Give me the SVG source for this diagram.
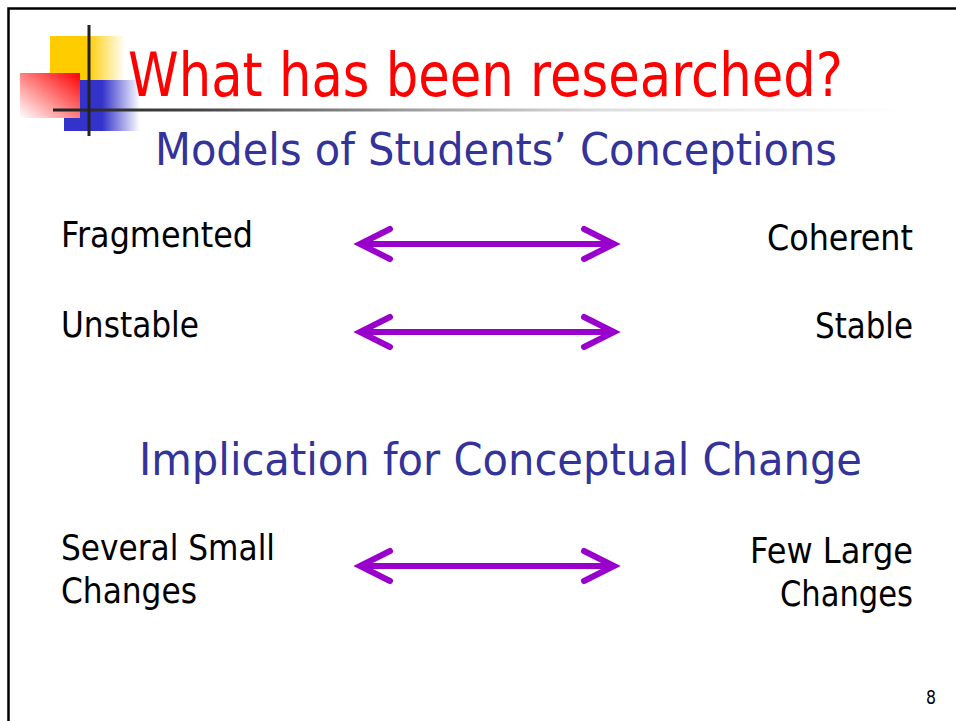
<svg xmlns="http://www.w3.org/2000/svg" width="956" height="721" viewBox="0 0 956 721">
  <style>
    .t { font-family: "DejaVu Sans", "Liberation Sans", sans-serif; }
    .title { fill: #FF0000; font-size: 60px; }
    .sub { fill: #333399; font-size: 44px; }
    .lbl { fill: #000000; font-size: 36px; }
    .num { fill: #000000; font-size: 19px; }
    .arrow { fill: none; stroke: #9900CC; stroke-width: 6; stroke-linecap: round; stroke-linejoin: miter; }
  </style>
  <defs>
    <linearGradient id="gYellow" x1="0" y1="0" x2="1" y2="0">
      <stop offset="0" stop-color="#FFCC00"/>
      <stop offset="0.5" stop-color="#FFCC00"/>
      <stop offset="1" stop-color="#FFCC00" stop-opacity="0"/>
    </linearGradient>
    <linearGradient id="gBlue" x1="0" y1="0" x2="1" y2="0">
      <stop offset="0" stop-color="#3333CC"/>
      <stop offset="0.5" stop-color="#3333CC"/>
      <stop offset="1" stop-color="#3333CC" stop-opacity="0"/>
    </linearGradient>
    <linearGradient id="gRed" x1="1" y1="0" x2="0" y2="1">
      <stop offset="0" stop-color="#FF0000"/>
      <stop offset="1" stop-color="#FFFFFF"/>
    </linearGradient>
    <linearGradient id="gLine" gradientUnits="userSpaceOnUse" x1="53" y1="0" x2="900" y2="0">
      <stop offset="0" stop-color="#222222"/>
      <stop offset="0.17" stop-color="#444444"/>
      <stop offset="0.41" stop-color="#999999"/>
      <stop offset="0.65" stop-color="#DDDDDD"/>
      <stop offset="1" stop-color="#FFFFFF"/>
    </linearGradient>
  </defs>

  <rect x="0" y="0" width="956" height="721" fill="#FFFFFF"/>
  <rect x="8.5" y="8.5" width="1000" height="1000" fill="none" stroke="#000000" stroke-width="2.5"/>

  <g id="logo">
    <rect x="50" y="36" width="75" height="44" fill="url(#gYellow)"/>
    <rect x="64" y="80" width="76" height="51" fill="url(#gBlue)"/>
    <rect x="20" y="73" width="60" height="45" fill="url(#gRed)"/>
    <rect x="53" y="108.5" width="847" height="3" fill="url(#gLine)"/>
    <rect x="87.5" y="25" width="3" height="111" fill="#222222"/>
  </g>

  <g id="title">
    <text class="t title" x="128" y="96" textLength="715" lengthAdjust="spacingAndGlyphs">What has been researched?</text>
  </g>
  <g id="subtitle-models">
    <text class="t sub" x="155" y="165" textLength="682" lengthAdjust="spacingAndGlyphs">Models of Students’ Conceptions</text>
  </g>
  <g id="node-fragmented">
    <text class="t lbl" x="61" y="247" textLength="192" lengthAdjust="spacingAndGlyphs">Fragmented</text>
  </g>
  <g id="node-coherent">
    <text class="t lbl" x="767" y="250" textLength="146" lengthAdjust="spacingAndGlyphs">Coherent</text>
  </g>
  <g id="node-unstable">
    <text class="t lbl" x="61" y="337" textLength="138" lengthAdjust="spacingAndGlyphs">Unstable</text>
  </g>
  <g id="node-stable">
    <text class="t lbl" x="815" y="338" textLength="98" lengthAdjust="spacingAndGlyphs">Stable</text>
  </g>
  <g id="subtitle-implication">
    <text class="t sub" x="139" y="475" textLength="723" lengthAdjust="spacingAndGlyphs">Implication for Conceptual Change</text>
  </g>
  <g id="node-several-small">
    <text class="t lbl" x="61" y="560" textLength="214" lengthAdjust="spacingAndGlyphs">Several Small</text>
    <text class="t lbl" x="61" y="603" textLength="136" lengthAdjust="spacingAndGlyphs">Changes</text>
  </g>
  <g id="node-few-large">
    <text class="t lbl" x="750" y="563" textLength="163" lengthAdjust="spacingAndGlyphs">Few Large</text>
    <text class="t lbl" x="780" y="606" textLength="133" lengthAdjust="spacingAndGlyphs">Changes</text>
  </g>
  <g id="page-number">
    <text class="t num" x="926" y="704" textLength="10" lengthAdjust="spacingAndGlyphs">8</text>
  </g>

  <g id="connectors">
    <g id="arrow-1">
      <line class="arrow" x1="362" y1="244" x2="612" y2="244"/>
      <polyline class="arrow" points="390,229 360,244 390,259"/>
      <polyline class="arrow" points="584,229 614,244 584,259"/>
    </g>
    <g id="arrow-2">
      <line class="arrow" x1="362" y1="332" x2="612" y2="332"/>
      <polyline class="arrow" points="390,317 360,332 390,347"/>
      <polyline class="arrow" points="584,317 614,332 584,347"/>
    </g>
    <g id="arrow-3">
      <line class="arrow" x1="362" y1="566" x2="612" y2="566"/>
      <polyline class="arrow" points="390,551 360,566 390,581"/>
      <polyline class="arrow" points="584,551 614,566 584,581"/>
    </g>
  </g>
</svg>
